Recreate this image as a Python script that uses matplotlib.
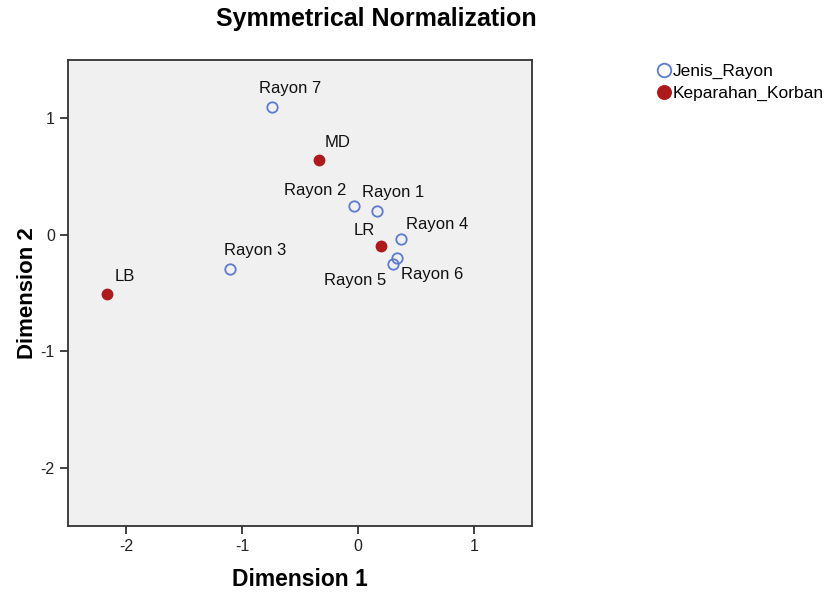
import matplotlib.pyplot as plt

# column points (Jenis_Rayon)
rayon_labels = ['Rayon 1', 'Rayon 2', 'Rayon 3', 'Rayon 4', 'Rayon 5', 'Rayon 6', 'Rayon 7']
rayon_dim1 = [0.16, -0.03, -1.10, 0.37, 0.30, 0.34, -0.74]
rayon_dim2 = [0.20, 0.25, -0.29, -0.04, -0.25, -0.20, 1.10]

# row points (Keparahan_Korban)
korban_labels = ['LB', 'LR', 'MD']
korban_dim1 = [-2.16, 0.20, -0.34]
korban_dim2 = [-0.51, -0.10, 0.64]

# label offsets in pixels (dx, dy)
rayon_offsets = [(17, 19), (-39, 15), (25, 18), (36, 15), (-38, -17), (35, -16), (18, 18)]
korban_offsets = [(17, 18), (-17, 16), (19, 18)]

blue = '#5b7bd0'
red = '#ae1a1c'

plt.rcParams['font.family'] = ['Liberation Sans', 'DejaVu Sans']
plt.rcParams['axes.unicode_minus'] = False

fig = plt.figure(figsize=(8.38, 5.97), dpi=100)
ax = fig.add_axes([0.0811, 0.1189, 0.5537, 0.7806])
ax.set_facecolor('#f0f0f0')

ax.plot(rayon_dim1, rayon_dim2, 'o', ms=7.5, mfc='none', mec=blue, mew=1.3,
        ls='none', label='Jenis_Rayon', zorder=3)
ax.plot(korban_dim1, korban_dim2, 'o', ms=7.5, mfc=red, mec=red,
        ls='none', label='Keparahan_Korban', zorder=3)

for lab, x, y, off in zip(rayon_labels, rayon_dim1, rayon_dim2, rayon_offsets):
    ax.annotate(lab, (x, y), xytext=off, textcoords='offset pixels',
                ha='center', va='center', fontsize=12, color='#111111')
for lab, x, y, off in zip(korban_labels, korban_dim1, korban_dim2, korban_offsets):
    ax.annotate(lab, (x, y), xytext=off, textcoords='offset pixels',
                ha='center', va='center', fontsize=12, color='#111111')

ax.set_xlim(-2.5, 1.5)
ax.set_ylim(-2.5, 1.5)
ax.set_xticks([-2, -1, 0, 1])
ax.set_yticks([-2, -1, 0, 1])
ax.tick_params(direction='out', length=6, width=1.2, labelsize=11.5, colors='#222222')
for s in ax.spines.values():
    s.set_linewidth(1.3)
    s.set_color('#333333')

ax.set_xlabel('Dimension 1', fontsize=16.5, fontweight='bold', labelpad=10)
ax.set_ylabel('Dimension 2', fontsize=16, fontweight='bold', labelpad=2)
fig.text(376 / 838, 1 - 19 / 597, 'Symmetrical Normalization', fontsize=18,
         fontweight='bold', ha='center', va='center')

fig.legend(loc='upper left', bbox_to_anchor=(0.771, 0.907), frameon=False,
           handletextpad=0.0, handlelength=1.05, labelspacing=0.35,
           fontsize=12.5, markerscale=1.3, borderpad=0)

fig.savefig('out.png', dpi=100)
